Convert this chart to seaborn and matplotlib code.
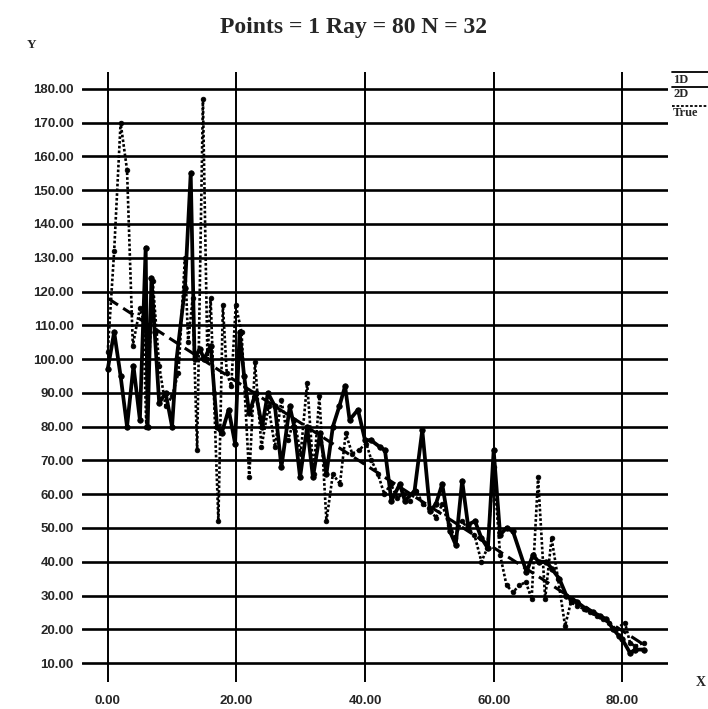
import matplotlib
matplotlib.use("Agg")
import matplotlib.pyplot as plt
import seaborn as sns
import pandas as pd
from matplotlib.lines import Line2D

# ---- data ----
x_1d = [0, 1, 2, 3, 4, 5, 5.9, 6.2, 6.8, 7.3, 8, 9, 10, 10.7, 12, 12.9, 13.5, 14.3,
        15, 16, 17, 17.7, 18.8, 19.8, 20.5, 21.2, 22, 23, 24, 24.9, 26, 27, 28.3, 29,
        29.9, 31, 31.9, 33, 34, 35, 36, 36.9, 37.6, 38.9, 40, 40.9, 42.3, 43.1, 44.1,
        45.4, 46.2, 47.7, 48.9, 50.1, 51, 52, 53.2, 54.1, 55.1, 56, 57.1, 58.1, 59.1,
        60, 61, 62, 63, 65.1, 66.1, 67, 68.2, 69, 70.2, 71.3, 72, 73, 74.4, 75.5,
        76.5, 77.5, 78.6, 79.5, 80, 81.2, 82, 83.3]
y_1d = [97, 108, 95, 80, 98, 82, 133, 80, 124, 108, 87, 90, 80, 100, 121, 155, 100, 103,
        100, 104, 80, 78, 85, 75, 108, 95, 84, 90, 80, 90, 86, 68, 86, 80,
        65, 80, 65, 78, 66, 80, 86, 92, 82, 85, 76, 76, 74, 73, 58,
        63, 58, 61, 79, 55, 57, 63, 49, 45, 64, 51, 52, 47, 44,
        73, 48, 50, 49, 37, 42, 40, 40, 38, 35, 30, 29, 28, 26, 25,
        24, 23, 20, 18, 17, 13, 14, 14]

x_2d = [0, 1, 2, 3, 3.9, 5, 5.5, 6, 7, 8, 9, 10, 11, 12, 12.5, 13.2, 13.9, 14.8, 15.5,
        16, 16.5, 17.2, 17.9, 18.5, 19.2, 19.9, 20.8, 22, 22.9, 23.9, 25, 26, 27, 28,
        29, 30, 31, 32, 32.9, 34, 35, 36.1, 37, 38, 39, 40.2, 41, 42, 43, 44, 45, 46,
        47, 48, 49, 50, 51, 52, 53, 54, 55, 56, 57, 58.1, 59, 60, 61, 62, 63, 64, 65,
        65.9, 66.9, 68, 69, 70, 71.1, 72, 73, 74, 75, 76, 77, 78, 79, 80.4, 81.2, 82, 83.3]
y_2d = [102, 132, 170, 156, 104, 115, 112, 80, 123, 98, 86, 89, 96, 130, 105, 118, 73, 177, 100,
        118, 90, 52, 116, 96, 92, 116, 108, 65, 99, 74, 86, 74, 88, 76,
        82, 72, 93, 66, 89, 52, 66, 63, 78, 72, 73, 75, 70, 66, 60, 63, 59, 60,
        58, 61, 57, 56, 53, 57, 51, 47, 52, 50, 48, 40, 44, 68, 42, 33, 31, 33, 34,
        29, 65, 29, 47, 35, 21, 28, 27, 26, 25, 24, 23, 22, 20, 22, 16, 15, 16]

x_true = [0, 83.3]
y_true = [118, 15.5]

y_ticks = [10, 20, 30, 40, 50, 60, 70, 80, 90, 100, 110, 120, 130, 140, 150, 160, 170, 180]
x_ticks = [0, 20, 40, 60, 80]
legend_labels = ["1D", "2D", "True"]
title_text = "Points = 1 Ray = 80 N = 32"

# ---- figure ----
sns.set_theme(style="white")
plt.rcParams["font.family"] = ["Liberation Serif", "DejaVu Serif"]

W, H = 708, 709
fig = plt.figure(figsize=(W / 100, H / 100), dpi=100)
ax = fig.add_axes([82 / W, 1 - 682 / H, (668 - 82) / W, (682 - 72) / H])

df1 = pd.DataFrame({"x": x_1d, "y": y_1d})
df2 = pd.DataFrame({"x": x_2d, "y": y_2d})
dft = pd.DataFrame({"x": x_true, "y": y_true})

sns.lineplot(data=dft, x="x", y="y", ax=ax, sort=False, estimator=None,
             color="black", lw=2.2, zorder=3)
ax.lines[-1].set_linestyle((0, (4, 2)))
sns.lineplot(data=df2, x="x", y="y", ax=ax, sort=False, estimator=None,
             color="black", lw=1.9, marker="o", markersize=3.4,
             markeredgecolor="black", markeredgewidth=0.5, zorder=4)
ax.lines[-1].set_linestyle((0, (1, 0.8)))
sns.lineplot(data=df1, x="x", y="y", ax=ax, sort=False, estimator=None,
             color="black", lw=2.7, marker="o", markersize=4.0,
             markeredgecolor="black", markeredgewidth=0.5, zorder=5)

ax.set_xlim(-4.0, 87.1)
ax.set_ylim(4.4, 185.0)
ax.set_xticks(x_ticks)
ax.set_yticks(y_ticks)
ax.set_xticklabels([f"{v:.2f}" for v in x_ticks])
ax.set_yticklabels([f"{v:.2f}" for v in y_ticks])
ax.set_xlabel("")
ax.set_ylabel("")
for s in ax.spines.values():
    s.set_visible(False)
ax.tick_params(axis="both", length=0, labelsize=9.5)
ax.tick_params(axis="x", pad=9.0)
ax.tick_params(axis="y", pad=6.0)
for lab in ax.get_xticklabels() + ax.get_yticklabels():
    lab.set_fontweight("bold")
    lab.set_family(["Liberation Sans", "DejaVu Sans"])
ax.yaxis.grid(True, color="black", lw=1.9)
ax.xaxis.grid(True, color="black", lw=1.4)
ax.set_axisbelow(True)

fig.text(0.5, 1 - 28 / H, title_text, ha="center", va="center",
         fontsize=17, fontweight="bold")
fig.text(31 / W, 1 - 45 / H, "Y", ha="center", va="center", fontsize=9.5, fontweight="bold")
fig.text(706 / W, 1 - 682 / H, "X", ha="right", va="center", fontsize=10, fontweight="bold")

# legend at right, line above each label
leg_line_y = [72, 87, 106]
leg_text_y = [80, 94, 113]
leg_styles = ["-", "-", (0, (1.5, 1))]
for lab, ly, ty, ls in zip(legend_labels, leg_line_y, leg_text_y, leg_styles):
    fig.add_artist(Line2D([672 / W, 708 / W], [1 - ly / H, 1 - ly / H],
                          color="black", lw=1.3, linestyle=ls, transform=fig.transFigure))
    fig.text(673 / W, 1 - ty / H, lab, ha="left", va="center", fontsize=9,
             fontweight="bold")

fig.savefig("out.png", dpi=100)
